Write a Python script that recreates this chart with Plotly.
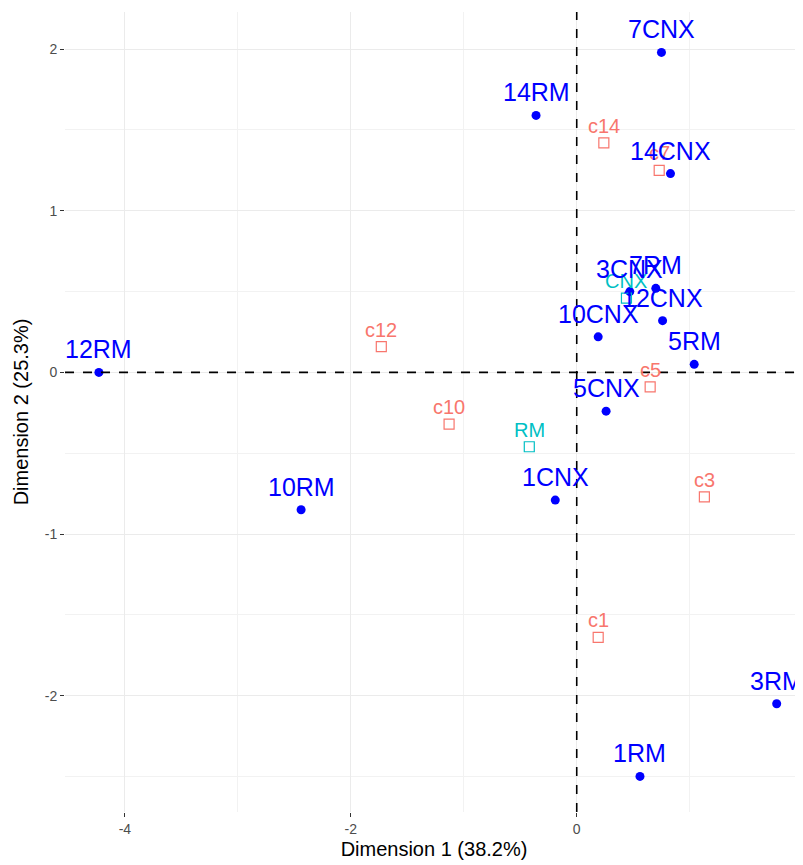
import plotly.graph_objects as go

# row points (filled blue)
row_labels = ["7CNX", "14RM", "14CNX", "3CNX", "7RM", "12CNX", "10CNX", "5RM",
              "12RM", "5CNX", "1CNX", "10RM", "3RM", "1RM"]
row_x = [0.75, -0.36, 0.83, 0.47, 0.70, 0.76, 0.19, 1.04,
         -4.23, 0.26, -0.19, -2.44, 1.77, 0.56]
row_y = [1.98, 1.59, 1.23, 0.50, 0.52, 0.32, 0.22, 0.05,
         0.00, -0.24, -0.79, -0.85, -2.05, -2.50]

# column points (open squares)
col_labels = ["c14", "c7", "c12", "c5", "c10", "c3", "c1"]
col_x = [0.24, 0.73, -1.73, 0.65, -1.13, 1.13, 0.19]
col_y = [1.42, 1.25, 0.16, -0.09, -0.32, -0.77, -1.64]

# supplementary points
sup_labels = ["CNX", "RM"]
sup_x = [0.44, -0.42]
sup_y = [0.46, -0.46]

# tick labels (plain hyphen minus, as in the original)
x_ticks = [-4, -2, 0, 2]
x_tick_text = ["-4", "-2", "0", "2"]
y_ticks = [-2, -1, 0, 1, 2]
y_tick_text = ["-2", "-1", "0", "1", "2"]

BLUE = "#0000FF"
SALMON = "#F8766D"
CYAN = "#00BFC4"
FONT = "Liberation Sans, Arial, sans-serif"

fig = go.Figure()

fig.add_trace(go.Scatter(
    x=row_x, y=row_y, mode="markers",
    marker=dict(color=BLUE, size=9),
    hovertext=row_labels, showlegend=False,
))
fig.add_trace(go.Scatter(
    x=col_x, y=col_y, mode="markers",
    marker=dict(color=SALMON, size=10, symbol="square-open", line=dict(width=1.2)),
    hovertext=col_labels, showlegend=False,
))
fig.add_trace(go.Scatter(
    x=sup_x, y=sup_y, mode="markers",
    marker=dict(color=CYAN, size=10, symbol="square-open", line=dict(width=1.2)),
    hovertext=sup_labels, showlegend=False,
))

# labels above points
for xs, ys, labels, color, size, shift in [
    (col_x, col_y, col_labels, SALMON, 20, 17),
    (sup_x, sup_y, sup_labels, CYAN, 20, 17),
    (row_x, row_y, row_labels, BLUE, 25, 23),
]:
    for x, y, t in zip(xs, ys, labels):
        fig.add_annotation(
            x=x, y=y, text=t, showarrow=False,
            yanchor="middle", xanchor="center", yshift=shift,
            font=dict(color=color, size=size, family=FONT),
        )

# reference lines through origin
fig.add_hline(y=0, line_dash="dash", line_color="black", line_width=1.6)
fig.add_vline(x=0, line_dash="dash", line_color="black", line_width=1.6)

# page body has an 8px margin, so the figure is shrunk by that amount
fig.update_layout(
    width=795, height=857,
    margin=dict(l=57, r=0, t=4, b=53),
    plot_bgcolor="white", paper_bgcolor="white",
    font=dict(family=FONT),
    xaxis=dict(
        title=dict(text="Dimension 1 (38.2%)", font=dict(size=20, color="black"),
                   standoff=6),
        range=[-4.53, 2.003], tickvals=x_ticks, ticktext=x_tick_text,
        ticklabeloverflow="allow",
        showgrid=True, gridcolor="#EBEBEB", gridwidth=1.3,
        minor=dict(tickvals=[-3, -1, 1], showgrid=True, gridcolor="#F2F2F2", gridwidth=1),
        zeroline=False, showline=False, automargin=False,
        ticks="outside", ticklen=4, tickcolor="#333333", tickwidth=1.2,
        tickfont=dict(size=14, color="#4D4D4D"),
    ),
    yaxis=dict(
        title=dict(text="Dimension 2 (25.3%)", font=dict(size=20, color="black"),
                   standoff=10),
        range=[-2.72, 2.23], tickvals=y_ticks, ticktext=y_tick_text,
        showgrid=True, gridcolor="#EBEBEB", gridwidth=1.3,
        minor=dict(tickvals=[-2.5, -1.5, -0.5, 0.5, 1.5], showgrid=True,
                   gridcolor="#F2F2F2", gridwidth=1),
        zeroline=False, showline=False, automargin=False,
        ticks="outside", ticklen=4, tickcolor="#333333", tickwidth=1.2,
        tickfont=dict(size=14, color="#4D4D4D"),
    ),
)

fig.write_html("out.html")
